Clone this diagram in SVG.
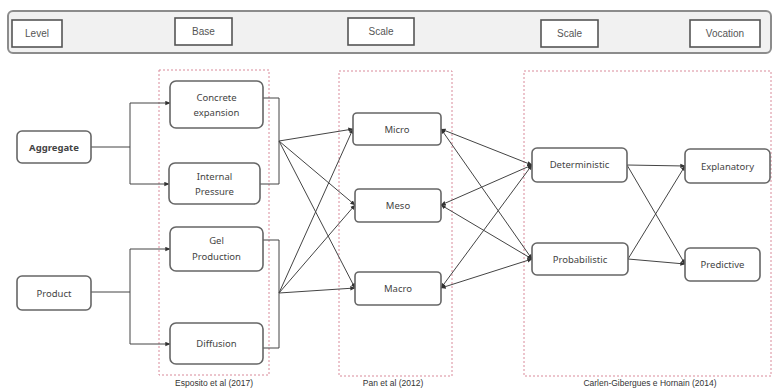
<svg xmlns="http://www.w3.org/2000/svg" width="774" height="390" viewBox="0 0 774 390">
<defs>
<marker id="arr" viewBox="0 0 8 8" refX="7.5" refY="4" markerWidth="5" markerHeight="5" orient="auto-start-reverse" markerUnits="userSpaceOnUse">
<path d="M0,0.5 L8,4 L0,7.5 z" fill="#333"/>
</marker>
<style>
.bar{fill:#f1f1f1;stroke:#8c8c8c;stroke-width:2}
.hdr{fill:#fff;stroke:#555;stroke-width:1.6}
.htx{font-family:"Liberation Sans",Arial,sans-serif;font-size:10px;fill:#555;text-anchor:middle}
.node{fill:#fff;stroke:#666;stroke-width:1.6}
.ntx{font-family:"Noto Sans","Open Sans",sans-serif;font-size:9.5px;fill:#444;text-anchor:middle}
.reg{fill:none;stroke:#d98a9a;stroke-width:1;stroke-dasharray:2,2}
.rtx{font-family:"Liberation Sans",Arial,sans-serif;font-size:8.5px;fill:#333;text-anchor:middle}
.ln{fill:none;stroke:#444;stroke-width:1}
</style>
</defs>
<g id="header">
<rect class="bar" x="8" y="11" width="763" height="42" rx="5"/>
<rect class="hdr" x="12" y="20" width="50" height="27"/>
<text class="htx" x="37" y="37">Level</text>
<rect class="hdr" x="175" y="18" width="57" height="27"/>
<text class="htx" x="203.5" y="35">Base</text>
<rect class="hdr" x="348" y="18" width="66" height="27"/>
<text class="htx" x="381" y="35">Scale</text>
<rect class="hdr" x="541" y="20" width="57" height="27"/>
<text class="htx" x="569.5" y="37">Scale</text>
<rect class="hdr" x="690" y="20" width="70" height="27"/>
<text class="htx" x="725" y="37">Vocation</text>
</g>
<g id="regions">
<rect class="reg" x="159" y="70" width="110" height="305"/>
<text class="rtx" x="214" y="386">Esposito et al (2017)</text>
<rect class="reg" x="339" y="71" width="113" height="305"/>
<text class="rtx" x="393" y="386">Pan et al (2012)</text>
<rect class="reg" x="524" y="71" width="247" height="305"/>
<text class="rtx" x="650" y="386">Carlen-Gibergues e Hornain (2014)</text>
</g>
<g id="connectors">
<path class="ln" d="M91,147 H130 V103 M130,147 V184"/>
<path class="ln" d="M130,103 H170" marker-end="url(#arr)"/>
<path class="ln" d="M130,184 H169" marker-end="url(#arr)"/>
<path class="ln" d="M91,292 H130 V249 M130,292 V344"/>
<path class="ln" d="M130,249 H170" marker-end="url(#arr)"/>
<path class="ln" d="M130,344 H170" marker-end="url(#arr)"/>
<path class="ln" d="M263,98 H279 V184 H260"/>
<path class="ln" d="M263,240 H279 V348 H263"/>
<path class="ln" d="M279,141 L353,129" marker-end="url(#arr)"/>
<path class="ln" d="M279,141 L355,205" marker-end="url(#arr)"/>
<path class="ln" d="M279,141 L355,288" marker-end="url(#arr)"/>
<path class="ln" d="M279,293 L353,129" marker-end="url(#arr)"/>
<path class="ln" d="M279,293 L355,205" marker-end="url(#arr)"/>
<path class="ln" d="M279,293 L355,288" marker-end="url(#arr)"/>
<path class="ln" d="M441,129 L532,165" marker-start="url(#arr)" marker-end="url(#arr)"/>
<path class="ln" d="M441,129 L532,259" marker-start="url(#arr)" marker-end="url(#arr)"/>
<path class="ln" d="M441,205 L532,165" marker-start="url(#arr)" marker-end="url(#arr)"/>
<path class="ln" d="M441,205 L532,259" marker-start="url(#arr)" marker-end="url(#arr)"/>
<path class="ln" d="M441,288 L532,165" marker-start="url(#arr)" marker-end="url(#arr)"/>
<path class="ln" d="M441,288 L532,259" marker-start="url(#arr)" marker-end="url(#arr)"/>
<path class="ln" d="M627,165 L685,166" marker-end="url(#arr)"/>
<path class="ln" d="M627,165 L685,264" marker-end="url(#arr)"/>
<path class="ln" d="M628,259 L685,166" marker-end="url(#arr)"/>
<path class="ln" d="M628,259 L685,264" marker-end="url(#arr)"/>
</g>
<g id="aggregate">
<rect class="node" x="17" y="131" width="74" height="32" rx="5"/>
<text class="ntx" x="54" y="151" font-weight="bold">Aggregate</text>
</g>
<g id="product">
<rect class="node" x="17" y="276" width="74" height="34" rx="5"/>
<text class="ntx" x="54" y="297">Product</text>
</g>
<g id="concrete-expansion">
<rect class="node" x="170" y="81" width="93" height="47" rx="6"/>
<text class="ntx" x="216.5" y="101">Concrete</text>
<text class="ntx" x="216.5" y="116">expansion</text>
</g>
<g id="internal-pressure">
<rect class="node" x="169" y="163" width="91" height="41" rx="6"/>
<text class="ntx" x="214.5" y="180">Internal</text>
<text class="ntx" x="214.5" y="195">Pressure</text>
</g>
<g id="gel-production">
<rect class="node" x="170" y="227" width="93" height="44" rx="6"/>
<text class="ntx" x="216.5" y="244">Gel</text>
<text class="ntx" x="216.5" y="260">Production</text>
</g>
<g id="diffusion">
<rect class="node" x="170" y="323" width="93" height="41" rx="6"/>
<text class="ntx" x="216.5" y="347">Diffusion</text>
</g>
<g id="micro">
<rect class="node" x="353" y="113" width="88" height="32" rx="4"/>
<text class="ntx" x="397" y="133">Micro</text>
</g>
<g id="meso">
<rect class="node" x="355" y="189" width="86" height="33" rx="4"/>
<text class="ntx" x="398" y="209">Meso</text>
</g>
<g id="macro">
<rect class="node" x="355" y="272" width="86" height="33" rx="4"/>
<text class="ntx" x="398" y="292">Macro</text>
</g>
<g id="deterministic">
<rect class="node" x="532" y="148" width="95" height="34" rx="5"/>
<text class="ntx" x="579.5" y="168">Deterministic</text>
</g>
<g id="probabilistic">
<rect class="node" x="532" y="243" width="96" height="32" rx="5"/>
<text class="ntx" x="580" y="263">Probabilistic</text>
</g>
<g id="explanatory">
<rect class="node" x="685" y="149" width="85" height="34" rx="5"/>
<text class="ntx" x="727.5" y="170">Explanatory</text>
</g>
<g id="predictive">
<rect class="node" x="685" y="248" width="75" height="33" rx="5"/>
<text class="ntx" x="722.5" y="268">Predictive</text>
</g>
</svg>
